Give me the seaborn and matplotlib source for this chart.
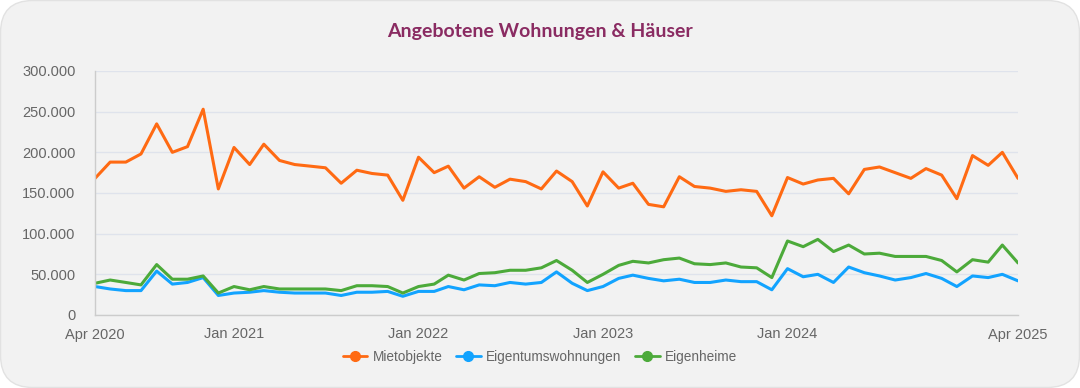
import matplotlib
matplotlib.use("Agg")
import matplotlib.pyplot as plt
import matplotlib.ticker as mticker
from matplotlib.patches import FancyBboxPatch
from matplotlib.lines import Line2D
import seaborn as sns
import pandas as pd
import numpy as np

months = pd.date_range("2020-04-01", "2025-04-01", freq="MS")

mietobjekte = [168, 188, 188, 198, 235, 200, 207, 253, 155,
               206, 185, 210, 190, 185, 183, 181, 162, 178, 174, 172, 141,
               194, 175, 183, 156, 170, 157, 167, 164, 155, 177, 164, 134,
               176, 156, 162, 136, 133, 170, 158, 156, 152, 154, 152, 122,
               169, 161, 166, 168, 149, 179, 182, 175, 168, 180, 172, 143,
               196, 184, 200, 168]
eigentumswohnungen = [35, 32, 30, 30, 54, 38, 40, 46, 24,
                      27, 28, 30, 28, 27, 27, 27, 24, 28, 28, 29, 23,
                      29, 29, 35, 31, 37, 36, 40, 38, 40, 53, 39, 30,
                      35, 45, 49, 45, 42, 44, 40, 40, 43, 41, 41, 31,
                      57, 47, 50, 40, 59, 52, 48, 43, 46, 51, 45, 35,
                      48, 46, 50, 42]
eigenheime = [39, 43, 40, 37, 62, 44, 44, 48, 27,
              35, 31, 35, 32, 32, 32, 32, 30, 36, 36, 35, 27,
              35, 38, 49, 43, 51, 52, 55, 55, 58, 67, 55, 40,
              50, 61, 66, 64, 68, 70, 63, 62, 64, 59, 58, 46,
              91, 84, 93, 78, 86, 75, 76, 72, 72, 72, 67, 53,
              68, 65, 86, 64]

series_names = ["Mietobjekte", "Eigentumswohnungen", "Eigenheime"]
colors = ["#ff6a13", "#12a3ff", "#4caa3a"]
tick_dates = pd.to_datetime(["2020-04-01", "2021-01-01", "2022-01-01",
                             "2023-01-01", "2024-01-01", "2025-04-01"])
tick_labels = ["Apr 2020", "Jan 2021", "Jan 2022", "Jan 2023", "Jan 2024", "Apr 2025"]
y_ticks = [0, 50000, 100000, 150000, 200000, 250000, 300000]

df = pd.DataFrame({
    "Monat": np.tile(months, 3),
    "Wert": np.array(mietobjekte + eigentumswohnungen + eigenheime) * 1000,
    "Serie": np.repeat(series_names, len(months)),
})

sns.set_theme(style="white")
plt.rcParams["font.family"] = ["Liberation Sans", "DejaVu Sans"]

W, H = 1080, 388
fig = plt.figure(figsize=(W / 100, H / 100), dpi=100)
fig.patch.set_facecolor("white")
card = FancyBboxPatch((0.5 / W, 0.5 / H), 1 - 1.0 / W, 1 - 1.0 / H,
                      boxstyle="round,pad=0,rounding_size=0.03",
                      transform=fig.transFigure, facecolor="#f2f2f2",
                      edgecolor="#e2e2e2", linewidth=1.0, zorder=-10,
                      mutation_aspect=W / H)
fig.patches.append(card)

ax = fig.add_axes([95 / W, 1 - 315 / H, (1018 - 95) / W, (315 - 71) / H])
ax.set_facecolor("none")

sns.lineplot(data=df, x="Monat", y="Wert", hue="Serie", palette=colors,
             hue_order=series_names, linewidth=2.2, ax=ax, legend=False)

ax.set_xlim(months[0], months[-1])
ax.set_ylim(0, 300000)
ax.set_yticks(y_ticks)
ax.yaxis.set_major_formatter(mticker.FuncFormatter(
    lambda v, p: f"{int(v):,}".replace(",", ".")))
ax.set_xticks(tick_dates)
ax.set_xticklabels(tick_labels)
ax.grid(axis="y", color="#dfe3ec", linewidth=1)
ax.set_axisbelow(True)
for s in ["top", "right"]:
    ax.spines[s].set_visible(False)
ax.spines["left"].set_color("#cccccc")
ax.spines["bottom"].set_color("#cccccc")
ax.spines["left"].set_linewidth(1)
ax.spines["bottom"].set_linewidth(1)
ax.tick_params(axis="x", length=10, width=1, color="#cccccc", labelsize=10.5,
               labelcolor="#666666", pad=4, direction="inout")
ax.tick_params(axis="y", length=0, labelsize=10.5, labelcolor="#666666", pad=14)
ax.set_xlabel("")
ax.set_ylabel("")

fig.text(0.5, 1 - 32 / H, "Angebotene Wohnungen & Häuser", ha="center", va="center",
         fontsize=14, color="#8a2b62", family=["Lato", "DejaVu Sans"], fontweight="bold")

handles = [Line2D([0], [0], color=c, linewidth=2, marker="o", markersize=7)
           for c in colors]
fig.legend(handles, series_names, loc="center", bbox_to_anchor=(0.5, 1 - 357 / H),
           ncol=3, frameon=False, fontsize=9.8, labelcolor="#666666",
           handlelength=1.8, columnspacing=1.0, handletextpad=0.4)

fig.savefig("out.png", dpi=100, facecolor="white")
